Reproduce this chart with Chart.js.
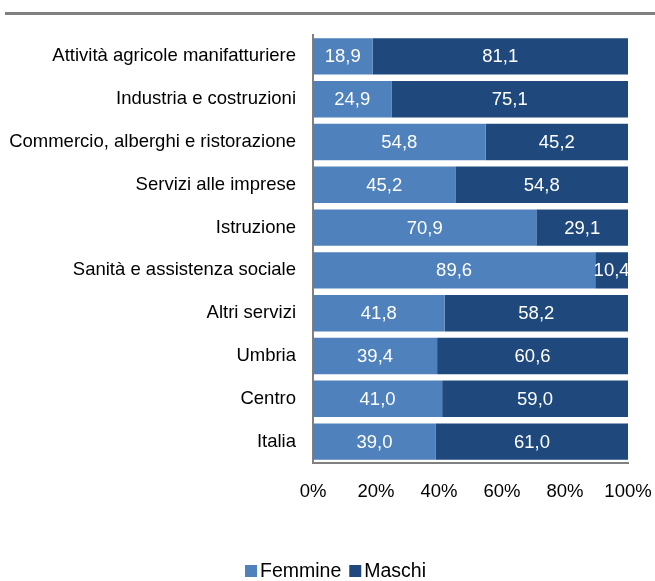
<!DOCTYPE html>
<html>
<head>
<meta charset="utf-8">
<script src="https://cdn.jsdelivr.net/npm/chart.js@4"></script>
<style>
  html, body { margin: 0; padding: 0; background: #fff; }
  #wrap { width: 655px; height: 581px; }
</style>
</head>
<body>
<div id="wrap"><canvas id="c" width="655" height="581"></canvas></div>
<script>
const categories = [
  "Attività agricole manifatturiere",
  "Industria e costruzioni",
  "Commercio, alberghi e ristorazione",
  "Servizi alle imprese",
  "Istruzione",
  "Sanità e assistenza sociale",
  "Altri servizi",
  "Umbria",
  "Centro",
  "Italia"
];
const femmine = [18.9, 24.9, 54.8, 45.2, 70.9, 89.6, 41.8, 39.4, 41.0, 39.0];
const maschi = [81.1, 75.1, 45.2, 54.8, 29.1, 10.4, 58.2, 60.6, 59.0, 61.0];
const xTicks = [0, 20, 40, 60, 80, 100];

const FONT = "'Liberation Sans', Arial, sans-serif";
const SIZE = 18.5;

// grey rule at the top of the figure
const topRule = {
  id: "topRule",
  beforeDraw(chart) {
    const ctx = chart.ctx;
    ctx.save();
    ctx.fillStyle = "#808080";
    ctx.fillRect(5, 12, 650, 3);
    ctx.restore();
  }
};

// white value labels in the middle of each segment
const valueLabels = {
  id: "valueLabels",
  afterDatasetsDraw(chart) {
    const ctx = chart.ctx;
    ctx.save();
    ctx.fillStyle = "#ffffff";
    ctx.font = SIZE + "px " + FONT;
    ctx.textAlign = "center";
    ctx.textBaseline = "middle";
    chart.data.datasets.forEach((ds, i) => {
      chart.getDatasetMeta(i).data.forEach((bar, j) => {
        const mid = (bar.x + bar.base) / 2;
        ctx.fillText(ds.data[j].toFixed(1).replace(".", ","), mid, bar.y + 1);
      });
    });
    ctx.restore();
  }
};

// compact legend under the chart (boxes close to their text)
const bottomLegend = {
  id: "bottomLegend",
  afterDraw(chart) {
    const ctx = chart.ctx;
    const y = 571;
    ctx.save();
    ctx.font = "19.5px " + FONT;
    ctx.textBaseline = "middle";
    ctx.textAlign = "left";
    let x = 245;
    chart.data.datasets.forEach((ds) => {
      ctx.fillStyle = ds.backgroundColor;
      ctx.fillRect(x, y - 6, 12, 12);
      ctx.fillStyle = "#000";
      ctx.fillText(ds.label, x + 15, y + 1);
      x += 15 + ctx.measureText(ds.label).width + 8;
    });
    ctx.restore();
  }
};

new Chart(document.getElementById("c"), {
  type: "bar",
  data: {
    labels: categories,
    datasets: [
      { label: "Femmine", data: femmine, backgroundColor: "#4f81bd" },
      { label: "Maschi", data: maschi, backgroundColor: "#1f497d" }
    ]
  },
  options: {
    indexAxis: "y",
    responsive: false,
    animation: false,
    devicePixelRatio: 1,
    layout: { padding: { top: 35, right: 27, left: 0, bottom: 22 } },
    datasets: { bar: { barPercentage: 0.85, categoryPercentage: 1 } },
    scales: {
      x: {
        stacked: true,
        min: 0,
        max: 100,
        afterBuildTicks: (s) => { s.ticks = xTicks.map(v => ({ value: v })); },
        afterFit: (s) => { s.height = 96; s.paddingLeft = 0; s.paddingRight = 0; },
        grid: { display: false, drawTicks: false },
        border: { display: true, color: "#808080", width: 2 },
        ticks: {
          color: "#000",
          padding: 18,
          font: { family: FONT, size: SIZE },
          callback: (v) => v + "%",
          maxRotation: 0
        }
      },
      y: {
        stacked: true,
        afterFit: (s) => { s.width = 313; s.paddingTop = 0; s.paddingBottom = 0; },
        grid: { display: false, drawTicks: false },
        border: { display: true, color: "#808080", width: 2 },
        ticks: {
          color: "#000",
          padding: 17,
          font: { family: FONT, size: SIZE }
        }
      }
    },
    plugins: {
      legend: { display: false },
      tooltip: { enabled: false }
    }
  },
  plugins: [topRule, valueLabels, bottomLegend]
});
</script>
</body>
</html>
